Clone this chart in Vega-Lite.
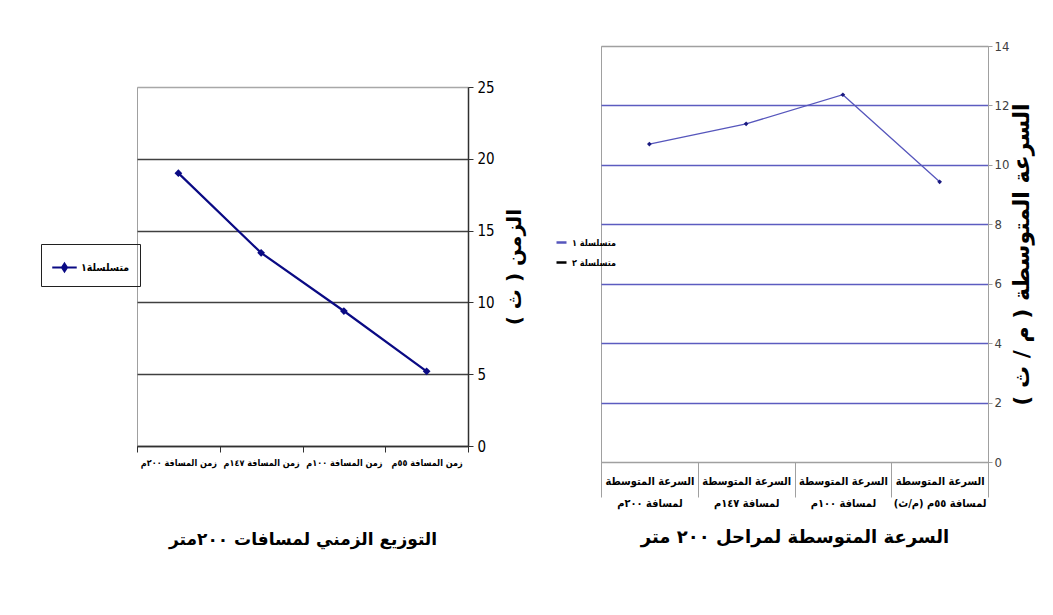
{
  "$schema": "https://vega.github.io/schema/vega-lite/v6.json",
  "background": "white",
  "padding": {"left": 40, "top": 39, "right": 5, "bottom": 5},
  "spacing": 29,
  "config": {"view": {"stroke": "#a0a0a0"}, "font": "DejaVu Sans"},
  "resolve": {"scale": {"color": "independent"}, "legend": {"color": "independent"}},
  "datasets": {
    "time": [
      {"category": "زمن المسافة ٢٠٠م", "seconds": 19.0},
      {"category": "زمن المسافة ١٤٧م", "seconds": 13.45},
      {"category": "زمن المسافة ١٠٠م", "seconds": 9.4},
      {"category": "زمن المسافة ٥٥م", "seconds": 5.2}
    ],
    "speed": [
      {"category": "السرعة المتوسطة لمسافة ٢٠٠م", "speed": 10.7, "series": "متسلسلة ١"},
      {"category": "السرعة المتوسطة لمسافة ١٤٧م", "speed": 11.38, "series": "متسلسلة ١"},
      {"category": "السرعة المتوسطة لمسافة ١٠٠م", "speed": 12.36, "series": "متسلسلة ١"},
      {"category": "السرعة المتوسطة لمسافة ٥٥م (م/ث)", "speed": 9.43, "series": "متسلسلة ١"}
    ]
  },
  "hconcat": [
    {
      "spacing": 13,
      "vconcat": [
        {
          "width": 331,
          "height": 20,
          "view": {"stroke": null},
          "data": {"values": [{}]},
          "mark": {"type": "rule", "opacity": 0},
          "encoding": {}
        },
        {
          "width": 331,
          "height": 359,
          "data": {"name": "time"},
          "encoding": {
            "x": {
              "field": "category", "type": "nominal", "sort": null, "bandPosition": 0.5,
              "scale": {"type": "band", "paddingInner": 0, "paddingOuter": 0},
              "axis": {
                "title": "التوزيع الزمني لمسافات ٢٠٠متر", "titleFontSize": 17, "titleFontWeight": "bold", "titleColor": "black", "titlePadding": 64,
                "labelAngle": 0, "labelFont": "DejaVu Sans Condensed", "labelFontSize": 9, "labelFontWeight": "bold", "labelColor": "black", "labelPadding": 6,
                "tickBand": "extent", "tickSize": 6, "tickColor": "#303030", "domainColor": "#303030", "domainWidth": 1.5, "grid": false
              }
            },
            "y": {
              "field": "seconds", "type": "quantitative", "scale": {"domain": [0, 25]},
              "axis": {
                "orient": "right", "values": [0, 5, 10, 15, 20, 25], "grid": true,
                "gridColor": {"condition": {"test": "datum.value == 25", "value": "#a8a8a8"}, "value": "#404040"},
                "gridWidth": 1.5,
                "tickColor": "#303030", "tickSize": 5, "domainColor": "#303030", "domainWidth": 1.5,
                "labelFont": "Liberation Sans Narrow, DejaVu Sans Condensed", "labelFontSize": 15, "labelColor": "black", "labelPadding": 4,
                "title": "الزمن ( ث )", "titleAngle": -90, "titleBaseline": "top", "titleFontSize": 20, "titleFontWeight": "bold", "titleColor": "black", "titlePadding": 10
              }
            }
          },
          "layer": [
            {
              "mark": {"type": "line", "strokeWidth": 2.2},
              "encoding": {
                "color": {
                  "datum": "متسلسلة١", "type": "nominal", "scale": {"range": ["#0a0a84"]},
                  "legend": {
                    "orient": "none", "legendX": -96, "legendY": 198, "title": null,
                    "strokeColor": "#202020", "padding": 10,
                    "labelFont": "DejaVu Sans Condensed", "labelFontSize": 10.5, "labelFontWeight": "bold", "labelColor": "black", "labelOffset": 3,
                    "symbolType": "M-1,0H1M0,-0.3L0.2,0L0,0.3L-0.2,0Z", "symbolSize": 600,
                    "symbolStrokeWidth": 2.2, "symbolFillColor": "#0a0a84"
                  }
                }
              }
            },
            {
              "mark": {"type": "point", "shape": "diamond", "filled": true, "size": 60, "color": "#0a0a84", "opacity": 1}
            }
          ]
        }
      ]
    },
    {
      "width": 387,
      "height": 416,
      "data": {"name": "speed"},
      "encoding": {
        "x": {
          "field": "category", "type": "nominal", "sort": null, "bandPosition": 0.5,
          "scale": {"type": "band", "paddingInner": 0, "paddingOuter": 0},
          "axis": {
            "title": "السرعة المتوسطة لمراحل ٢٠٠ متر", "titleFontSize": 18, "titleFontWeight": "bold", "titleColor": "black", "titlePadding": 20,
            "labelAngle": 0, "labelFont": "DejaVu Sans Condensed", "labelFontSize": 11, "labelFontWeight": "bold", "labelColor": "black",
            "labelExpr": "[substring(datum.label, 0, 15), substring(datum.label, 16)]",
            "labelLineHeight": 22, "labelPadding": -22,
            "tickBand": "extent", "tickSize": 35, "tickColor": "#a0a0a0", "domainColor": "#a0a0a0", "grid": false
          }
        },
        "y": {
          "field": "speed", "type": "quantitative", "scale": {"domain": [0, 14]},
          "axis": {
            "orient": "right", "values": [0, 2, 4, 6, 8, 10, 12, 14], "grid": true,
            "gridColor": {"condition": {"test": "datum.value == 14 || datum.value == 0", "value": "#a0a0a0"}, "value": "#5c5cc0"},
            "gridWidth": 1.4,
            "tickColor": "#a0a0a0", "tickSize": 4, "domainColor": "#a0a0a0",
            "labelFont": "Liberation Sans Narrow, DejaVu Sans Condensed", "labelFontSize": 13, "labelColor": "#404040", "labelPadding": 2,
            "title": "السرعة المتوسطة ( م / ث )", "titleAngle": -90, "titleBaseline": "top", "titleFontSize": 22, "titleFontWeight": "bold", "titleColor": "black", "titlePadding": 3
          }
        }
      },
      "layer": [
        {
          "mark": {"type": "line", "strokeWidth": 1.3},
          "encoding": {
            "color": {
              "field": "series", "type": "nominal",
              "scale": {"domain": ["متسلسلة ١", "متسلسلة ٢"], "range": ["#5656bc", "#000000"]},
              "legend": {
                "orient": "none", "legendX": -46, "legendY": 190, "title": null,
                "labelFont": "DejaVu Sans Condensed", "labelFontSize": 9, "labelFontWeight": "bold", "labelColor": "black",
                "symbolType": "stroke", "symbolSize": 100, "symbolStrokeWidth": 2.5, "symbolStrokeColor": "black",
                "rowPadding": 8
              }
            }
          }
        },
        {
          "mark": {"type": "point", "shape": "diamond", "filled": true, "size": 22, "color": "#1a1a80", "opacity": 1}
        }
      ]
    }
  ]
}
